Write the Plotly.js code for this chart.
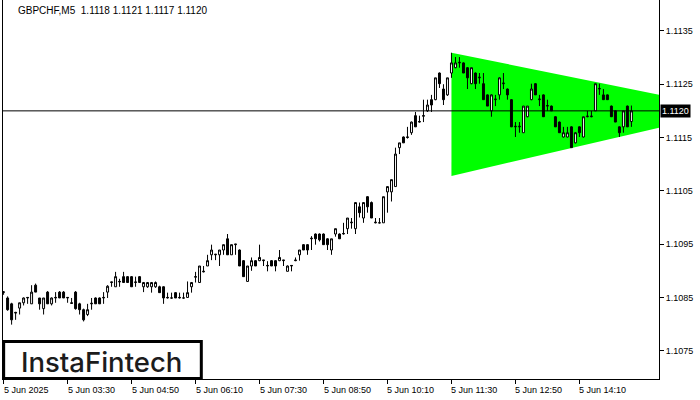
<!DOCTYPE html>
<html>
<head>
<meta charset="utf-8">
<script src="https://cdn.plot.ly/plotly-3.0.1.min.js"></script>
<style>html,body{margin:0;padding:0;background:#fff;}#chart{width:700px;height:400px;}</style>
</head>
<body>
<div id="chart"></div>
<script>
// GBPCHF M5, 5 Jun 2025, first bar 02:10, one bar every 5 minutes
const startMinutes = 2 * 60 + 10;
const openPrices = [
1.10860,
1.10849,1.10838,1.10822,1.10830,1.10840,1.10849,1.10838,1.10873,1.10849,1.10829,
1.10860,1.10838,1.10849,1.10860,1.10860,1.10849,1.10840,1.10860,1.10838,1.10827,
1.10818,1.10838,1.10849,1.10849,1.10849,1.10860,
1.10878,1.10870,1.10879,1.10889,1.10889,1.10889,1.10878,1.10889,1.10870,1.10870,
1.10870,1.10870,1.10870,1.10870,1.10849,1.10849,1.10859,1.10849,1.10849,1.10850,
1.10870,1.10888,1.10878,1.10898,1.10909,1.10930,
1.10930,1.10930,1.10939,1.10960,1.10930,1.10949,1.10939,1.10919,1.10880,1.10909,
1.10919,1.10919,1.10919,1.10909,1.10919,1.10919,1.10919,1.10919,1.10899,1.10909,
1.10919,1.10930,1.10949,1.10949,1.10960,1.10969,
1.10969,1.10969,1.10960,1.10939,1.10969,1.10969,1.10969,1.10979,1.10990,1.10979,
1.11020,1.10999,1.11039,1.11028,1.10990,1.10990,1.10990,1.11048,1.11048,1.11058,
1.11131,1.11151,1.11150,1.11159,1.11191,1.11179,1.11190,
1.11200,1.11221,1.11221,1.11271,1.11241,
1.11230,1.11271,1.11281,1.11290,1.11290,1.11281,1.11251,1.11271,1.11262,1.11251,
1.11230,1.11200,1.11221,1.11230,1.11251,1.11241,1.11221,1.11170,1.11170,1.11159,
1.11189,1.11221,1.11251,1.11221,1.11230,1.11209,1.11209,1.11189,1.11179,1.11151,
1.11151,1.11170,1.11140,1.11170,1.11151,1.11189,1.11189,1.11200,1.11241,1.11230,
1.11230,1.11209,1.11200,1.11170,1.11170,1.11209,1.11180
];
const highPrices = [
1.10862,
1.10852,1.10840,1.10823,1.10840,1.10850,1.10850,1.10873,1.10876,1.10849,1.10849,
1.10862,1.10850,1.10860,1.10862,1.10862,1.10850,1.10849,1.10862,1.10840,1.10829,
1.10838,1.10849,1.10850,1.10850,1.10860,1.10873,
1.10879,1.10898,1.10885,1.10898,1.10890,1.10890,1.10889,1.10890,1.10879,1.10879,
1.10879,1.10880,1.10872,1.10871,1.10859,1.10859,1.10860,1.10859,1.10859,1.10880,
1.10879,1.10898,1.10909,1.10909,1.10930,1.10949,
1.10931,1.10939,1.10949,1.10969,1.10949,1.10950,1.10940,1.10920,1.10909,1.10925,
1.10920,1.10949,1.10920,1.10918,1.10920,1.10920,1.10939,1.10920,1.10910,1.10910,
1.10925,1.10939,1.10950,1.10950,1.10965,1.10970,
1.10970,1.10970,1.10961,1.10960,1.10979,1.10970,1.10990,1.10999,1.10999,1.11028,
1.11028,1.11028,1.11040,1.11030,1.10999,1.10999,1.11039,1.11058,1.11071,1.11131,
1.11140,1.11152,1.11170,1.11180,1.11198,1.11191,1.11221,
1.11221,1.11230,1.11262,1.11272,1.11250,
1.11262,1.11309,1.11301,1.11301,1.11291,1.11282,1.11281,1.11272,1.11271,1.11271,
1.11231,1.11231,1.11230,1.11263,1.11271,1.11242,1.11222,1.11179,1.11179,1.11209,
1.11209,1.11251,1.11252,1.11230,1.11231,1.11221,1.11210,1.11190,1.11180,1.11170,
1.11170,1.11171,1.11160,1.11171,1.11189,1.11200,1.11200,1.11251,1.11251,1.11241,
1.11231,1.11210,1.11201,1.11171,1.11200,1.11210,1.11210
];
const lowPrices = [
1.10855,
1.10825,1.10799,1.10808,1.10818,1.10835,1.10838,1.10838,1.10860,1.10827,1.10818,
1.10838,1.10835,1.10840,1.10849,1.10849,1.10840,1.10838,1.10827,1.10818,1.10805,
1.10815,1.10827,1.10838,1.10838,1.10838,1.10849,
1.10870,1.10870,1.10870,1.10878,1.10878,1.10870,1.10870,1.10878,1.10860,1.10868,
1.10859,1.10868,1.10859,1.10838,1.10848,1.10848,1.10849,1.10848,1.10848,1.10849,
1.10859,1.10878,1.10878,1.10897,1.10909,1.10920,
1.10920,1.10909,1.10930,1.10930,1.10930,1.10930,1.10909,1.10889,1.10880,1.10900,
1.10909,1.10918,1.10909,1.10899,1.10909,1.10899,1.10918,1.10909,1.10899,1.10899,
1.10918,1.10919,1.10939,1.10930,1.10939,1.10949,
1.10955,1.10949,1.10939,1.10930,1.10964,1.10960,1.10968,1.10969,1.10979,1.10969,
1.11000,1.10990,1.11009,1.10999,1.10989,1.10989,1.10990,1.11009,1.11030,1.11058,
1.11119,1.11140,1.11148,1.11155,1.11170,1.11178,1.11179,
1.11198,1.11198,1.11220,1.11243,1.11211,
1.11228,1.11262,1.11280,1.11281,1.11271,1.11241,1.11250,1.11241,1.11251,1.11221,
1.11209,1.11189,1.11209,1.11221,1.11241,1.11221,1.11170,1.11151,1.11159,1.11159,
1.11188,1.11220,1.11230,1.11209,1.11189,1.11200,1.11200,1.11170,1.11159,1.11150,
1.11150,1.11131,1.11139,1.11151,1.11150,1.11188,1.11188,1.11200,1.11230,1.11221,
1.11221,1.11189,1.11179,1.11151,1.11159,1.11170,1.11170
];
const closePrices = [
1.10860,
1.10827,1.10808,1.10821,1.10840,1.10849,1.10850,1.10860,1.10860,1.10838,1.10849,
1.10838,1.10849,1.10850,1.10849,1.10849,1.10850,1.10839,1.10829,1.10827,1.10808,
1.10827,1.10839,1.10838,1.10838,1.10850,1.10871,
1.10879,1.10889,1.10880,1.10878,1.10878,1.10870,1.10879,1.10878,1.10878,1.10878,
1.10878,1.10878,1.10859,1.10849,1.10850,1.10849,1.10849,1.10850,1.10849,1.10859,
1.10878,1.10889,1.10909,1.10899,1.10919,1.10939,
1.10931,1.10939,1.10949,1.10930,1.10949,1.10950,1.10909,1.10889,1.10909,1.10919,
1.10909,1.10925,1.10920,1.10910,1.10909,1.10909,1.10925,1.10920,1.10909,1.10910,
1.10920,1.10939,1.10939,1.10939,1.10961,1.10960,
1.10958,1.10949,1.10949,1.10960,1.10979,1.10960,1.10970,1.10999,1.10991,1.11028,
1.11009,1.11028,1.11020,1.10999,1.10991,1.10990,1.11039,1.11058,1.11071,1.11119,
1.11140,1.11140,1.11151,1.11179,1.11170,1.11180,1.11191,
1.11211,1.11211,1.11262,1.11251,1.11221,
1.11262,1.11290,1.11290,1.11291,1.11271,1.11262,1.11281,1.11251,1.11263,1.11221,
1.11209,1.11230,1.11222,1.11262,1.11252,1.11230,1.11170,1.11171,1.11171,1.11209,
1.11209,1.11241,1.11230,1.11222,1.11189,1.11210,1.11200,1.11170,1.11159,1.11159,
1.11159,1.11131,1.11159,1.11159,1.11189,1.11190,1.11190,1.11251,1.11242,1.11221,
1.11221,1.11189,1.11179,1.11159,1.11200,1.11170,1.11200
];

// Symmetrical triangle pattern (bullish, green)
const triangleTimes = ['2025-06-05 11:30', '2025-06-05 16:00', '2025-06-05 16:00', '2025-06-05 11:30'];
const trianglePrices = [1.11309, 1.11227, 1.11172, 1.11078];

// Axis ticks
const xTickTimes = ['2025-06-05 02:10','2025-06-05 03:30','2025-06-05 04:50','2025-06-05 06:10','2025-06-05 07:30',
                    '2025-06-05 08:50','2025-06-05 10:10','2025-06-05 11:30','2025-06-05 12:50','2025-06-05 14:10'];
const xTickLabels = ['5 Jun 2025','5 Jun 03:30','5 Jun 04:50','5 Jun 06:10','5 Jun 07:30',
                     '5 Jun 08:50','5 Jun 10:10','5 Jun 11:30','5 Jun 12:50','5 Jun 14:10'];
const yTickValues = [1.1075, 1.1085, 1.1095, 1.1105, 1.1115, 1.1125, 1.1135];
const yTickLabels = ['1.1075','1.1085','1.1095','1.1105','1.1115','1.1125','1.1135'];
const currentPrice = 1.1120;
const headerText = 'GBPCHF,M5\u00a0\u00a01.1118 1.1121 1.1117 1.1120';

function pad(n){ return (n < 10 ? '0' : '') + n; }
const barTimes = openPrices.map((_, i) => {
  const m = startMinutes + 5 * i;
  return '2025-06-05 ' + pad(Math.floor(m / 60)) + ':' + pad(m % 60);
});

const fontFam = '"Liberation Sans", Arial, sans-serif';
const xRange = ['2025-06-05 02:09:15', '2025-06-05 15:49:30'];
const yRange = [1.10697, 1.11408];

const traces = [
  {
    type: 'scatter', mode: 'lines', x: triangleTimes, y: trianglePrices,
    xaxis: 'x', yaxis: 'y',
    fill: 'toself', fillcolor: '#00ff00', line: {width: 0, color: '#00ff00'},
    hoverinfo: 'skip', showlegend: false
  },
  {
    type: 'candlestick', x: barTimes, xaxis: 'x2', yaxis: 'y2',
    open: openPrices, high: highPrices, low: lowPrices, close: closePrices,
    increasing: {line: {color: '#000', width: 1}, fillcolor: '#ffffff'},
    decreasing: {line: {color: '#000', width: 1}, fillcolor: '#000000'},
    whiskerwidth: 0, showlegend: false
  }
];

const annotations = xTickTimes.map((t, i) => ({
  xref: 'x', yref: 'paper', x: t, y: 0, yshift: -4,
  xanchor: 'left', yanchor: 'top', xshift: -2,
  text: xTickLabels[i], showarrow: false,
  font: {family: fontFam, size: 9, color: '#000'}
}));
annotations.push({
  xref: 'paper', yref: 'y', x: 1, y: currentPrice, xanchor: 'left', yanchor: 'middle', xshift: 1,
  text: currentPrice.toFixed(4), showarrow: false, bgcolor: '#000', borderpad: 1,
  font: {family: fontFam, size: 9, color: '#fff'}
});
annotations.push({
  xref: 'paper', yref: 'paper', x: 0, y: 1, xanchor: 'left', yanchor: 'top', xshift: 13, yshift: -3,
  text: headerText, showarrow: false,
  font: {family: fontFam, size: 10, color: '#000'}
});
annotations.push({
  xref: 'paper', yref: 'paper', x: 0.1505, y: 0.046, xanchor: 'center', yanchor: 'middle',
  text: 'InstaFintech', showarrow: false,
  font: {family: 'Inter, Lato, sans-serif', size: 27.5, color: '#1c1c1c', weight: 500}
});

const layout = {
  width: 700, height: 400,
  margin: {l: 3, r: 41, t: 0, b: 21, pad: 0},
  paper_bgcolor: '#fff', plot_bgcolor: '#fff',
  showlegend: false,
  xaxis: {
    type: 'date', range: xRange,
    rangeslider: {visible: false},
    tickvals: xTickTimes, showticklabels: false,
    ticks: 'outside', ticklen: 4, tickcolor: '#000', tickwidth: 1,
    showgrid: false, zeroline: false,
    showline: true, linecolor: '#000', linewidth: 1
  },
  yaxis: {
    side: 'right', range: yRange,
    tickvals: yTickValues, ticktext: yTickLabels,
    ticks: 'outside', ticklen: 4, tickcolor: '#000', tickwidth: 1,
    tickfont: {family: fontFam, size: 9, color: '#000'},
    showgrid: false, zeroline: false,
    showline: true, mirror: true, linecolor: '#000', linewidth: 1
  },
  xaxis2: {
    type: 'date', overlaying: 'x', range: xRange, visible: false,
    rangeslider: {visible: false}, showgrid: false, zeroline: false
  },
  yaxis2: {
    overlaying: 'y', range: yRange, visible: false, showgrid: false, zeroline: false
  },
  shapes: [
    {type: 'line', xref: 'paper', yref: 'y', x0: 0, x1: 1, y0: currentPrice, y1: currentPrice,
     line: {color: '#000', width: 1}},
    {type: 'rect', xref: 'paper', yref: 'paper', x0: 0.001, x1: 0.3023, y0: 0.0013, y1: 0.099,
     line: {color: '#000', width: 3}, fillcolor: '#fff'}
  ],
  annotations: annotations
};

Plotly.newPlot('chart', traces, layout, {staticPlot: true, displayModeBar: false});
</script>
</body>
</html>
